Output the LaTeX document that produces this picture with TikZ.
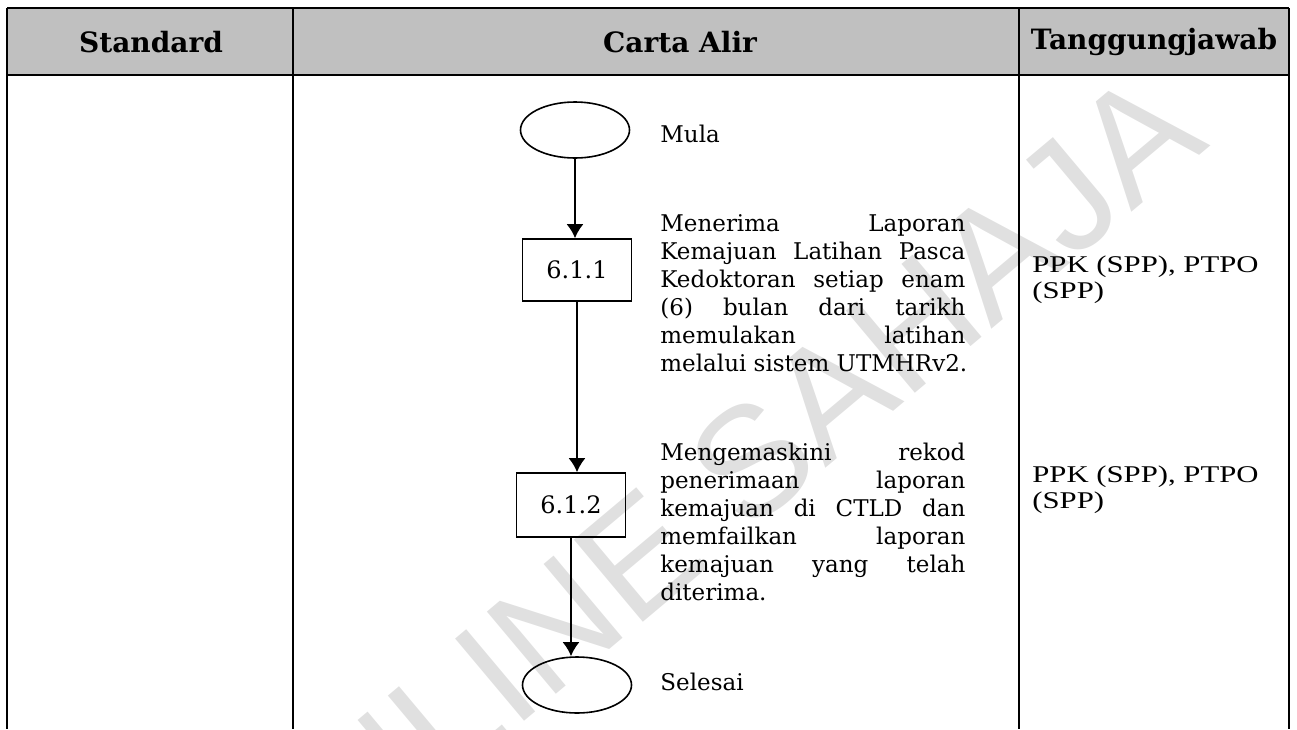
\documentclass[tikz,border=0pt]{standalone}
\usepackage{fontspec}
\setmainfont{Liberation Serif}
\setsansfont{Liberation Sans}
\newfontfamily\bkfont{DejaVu Serif}
\newfontfamily\whofont[FakeStretch=1.28]{Liberation Serif}
\usetikzlibrary{arrows.meta}
\usetikzlibrary{shapes.geometric}
\definecolor{headgray}{HTML}{C0C0C0}
\definecolor{markgray}{HTML}{E0E0E0}
\newcommand{\jline}[1]{\makebox[152.5pt][s]{#1}}

\tikzset{
  rule/.style={line width=1pt},
  flowline/.style={line width=1pt,-{Latex[length=7pt,width=8.5pt]}},
  terminal/.style={draw,line width=0.8pt,ellipse,minimum width=54.5pt,minimum height=28pt,inner sep=0pt},
  stepbox/.style={draw,line width=0.8pt,rectangle,minimum width=54.5pt,minimum height=31pt,inner sep=0pt,
                  font=\bkfont\fontsize{12}{14}\selectfont},
  flowtext/.style={inner sep=0pt,align=left,font=\bkfont\fontsize{11.5}{14}\selectfont},
  headtext/.style={inner sep=0pt,font=\bkfont\bfseries\fontsize{14}{16}\selectfont},
  whotext/.style={anchor=north west,inner sep=0pt,align=left,font=\whofont\fontsize{12}{13.4}\selectfont}
}

\begin{document}
\begin{tikzpicture}[x=0.5pt,y=-0.5pt]
  \useasboundingbox (0,0) rectangle (1297,729);
  % watermark
  \begin{scope}
    \clip (0,0) rectangle (1297,729);
    \node [rotate=40,text=markgray,inner sep=0pt,font=\sffamily\fontsize{78}{78}\selectfont] (mark) at (705,500) {ONLINE SAHAJA};
  \end{scope}
  % table
  \fill [headgray] (7,8) rectangle (1289,75);
  \draw [rule] (7,8) -- (1289,8);
  \draw [rule] (7,75) -- (1289,75);
  \draw [rule] (7,8) -- (7,729);
  \draw [rule] (293,8) -- (293,729);
  \draw [rule] (1019,8) -- (1019,729);
  \draw [rule] (1289,8) -- (1289,729);
  \node [headtext] (hstandard) at (151,42) {Standard};
  \node [headtext] (hcarta) at (680,42) {Carta Alir};
  \node [headtext] (htanggung) at (1154,42) {Tanggungjawab};

  % flow
  \node [terminal] (mula) at (575,130) {};
  \node [stepbox] (step1) at (577,270) {6.1.1};
  \node [stepbox,minimum height=32pt] (step2) at (571,505) {6.1.2};
  \node [terminal] (selesai) at (577,685) {};
  \draw [flowline] (mula.south) -- (mula.south |- step1.north);
  \draw [flowline] (step1.south) -- (step1.south |- step2.north);
  \draw [flowline] (step2.south) -- (step2.south |- selesai.north);

  \node [flowtext,anchor=base west] (tmula) at (660,142) {Mula};
  \node [flowtext,anchor=north west] (tstep1) at (660,214) {%
    \jline{Menerima Laporan}\\
    \jline{Kemajuan Latihan Pasca}\\
    \jline{Kedoktoran setiap enam}\\
    \jline{(6) bulan dari tarikh}\\
    \jline{memulakan latihan}\\
    melalui sistem UTMHRv2.};
  \node [flowtext,anchor=north west] (tstep2) at (660,443) {%
    \jline{Mengemaskini rekod}\\
    \jline{penerimaan laporan}\\
    \jline{kemajuan di CTLD dan}\\
    \jline{memfailkan laporan}\\
    \jline{kemajuan yang telah}\\
    diterima.};
  \node [flowtext,anchor=base west] (tselesai) at (660,690) {Selesai};

  % who
  \node [whotext] (who1) at (1032,255) {PPK (SPP), PTPO\\(SPP)};
  \node [whotext] (who2) at (1032,465) {PPK (SPP), PTPO\\(SPP)};
\end{tikzpicture}
\end{document}
